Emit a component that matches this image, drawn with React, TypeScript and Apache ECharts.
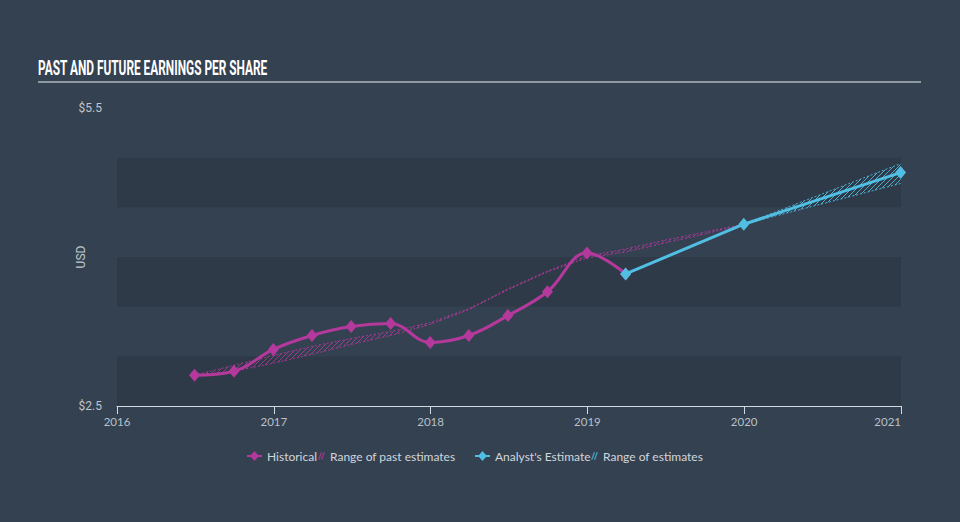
import React, { useEffect, useRef } from "react";
import * as echarts from "echarts";

// ---- data ----
const histDates = [
  "2016-06-30", "2016-09-30", "2016-12-31", "2017-03-31", "2017-06-30", "2017-09-30",
  "2017-12-31", "2018-03-31", "2018-06-30", "2018-09-30", "2018-12-31", "2019-03-31",
];
const histEps = [2.81, 2.85, 3.07, 3.21, 3.30, 3.33, 3.14, 3.21, 3.41, 3.65, 4.04, 3.83];

const pastRangeDates = [
  "2016-06-30", "2016-09-30", "2016-12-31", "2017-03-31", "2017-06-30", "2017-09-30",
  "2017-12-31", "2018-03-31", "2018-06-30", "2018-09-30", "2018-12-31", "2019-03-31",
  "2019-06-30", "2019-09-30", "2019-12-31",
];
const pastHigh = [2.81, 2.91, 3.01, 3.10, 3.18, 3.25, 3.34, 3.48, 3.68, 3.86, 4.01, 4.08, 4.17, 4.25, 4.33];
const pastLow = [2.81, 2.85, 2.93, 3.02, 3.12, 3.21, 3.32, 3.47, 3.67, 3.85, 3.99, 4.05, 4.14, 4.23, 4.33];

const estDates = ["2019-03-31", "2019-12-31", "2020-12-31"];
const estEps = [3.83, 4.33, 4.85];

const estRangeDates = ["2019-12-31", "2020-12-31"];
const estHigh = [4.33, 4.94];
const estLow = [4.33, 4.74];

const yTickLabels = ["$2.5", "$5.5"];
const titleText = "PAST AND FUTURE EARNINGS PER SHARE";

// ---- helpers ----
const toYear = (d: string) => {
  const [y, m, dd] = d.split("-").map(Number);
  const start = Date.UTC(y, 0, 1);
  const end = Date.UTC(y + 1, 0, 1);
  return y + (Date.UTC(y, m - 1, dd) - start) / (end - start);
};
const pairs = (dates: string[], vals: number[]) => dates.map((d, i) => [toYear(d), vals[i]]);

function makeHatch(color: string) {
  const s = 5;
  const c = document.createElement("canvas");
  c.width = s;
  c.height = s;
  const ctx = c.getContext("2d")!;
  ctx.strokeStyle = color;
  ctx.lineWidth = 1;
  ctx.beginPath();
  ctx.moveTo(0, s);
  ctx.lineTo(s, 0);
  ctx.moveTo(-1, 1);
  ctx.lineTo(1, -1);
  ctx.moveTo(s - 1, s + 1);
  ctx.lineTo(s + 1, s - 1);
  ctx.stroke();
  return { image: c, repeat: "repeat", imageWidth: s, imageHeight: s } as any;
}

const MAGENTA = "#b5399c";
const CYAN = "#50bfe3";
const BG = "#344151";
const hatchIcon = "path://M0,8 L1.5,8 L4.5,0 L3,0 Z M3,8 L4.5,8 L7.5,0 L6,0 Z";
const diamondIcon = "path://M0,4 L4,4 L7.5,0 L11,4 L15,4 L15,6 L11,6 L7.5,10 L4,6 L0,6 Z";
const geoFont = "Lato";
const legendText = { color: "#d2d6db", fontFamily: geoFont, fontSize: 12 };

function bandSeries(name: string, dates: string[], hi: number[], lo: number[], color: string, hatch: string) {
  const xs = dates.map(toYear);
  const fill = makeHatch(hatch);
  return {
    name,
    type: "custom",
    coordinateSystem: "cartesian2d",
    silent: true,
    z: 2,
    itemStyle: { color },
    data: dates.map((_, i) => [xs[i], lo[i], hi[i]]),
    encode: { x: 0, y: [1, 2] },
    renderItem: (params: any, api: any) => {
      const i = params.dataIndex;
      if (i >= xs.length - 1) return null;
      const pts = [
        api.coord([xs[i], hi[i]]),
        api.coord([xs[i + 1], hi[i + 1]]),
        api.coord([xs[i + 1], lo[i + 1]]),
        api.coord([xs[i], lo[i]]),
      ];
      return { type: "polygon", shape: { points: pts }, style: { fill, stroke: null } };
    },
  };
}

function boundLine(name: string, dates: string[], vals: number[], color: string) {
  return {
    name,
    type: "line",
    showSymbol: false,
    silent: true,
    data: pairs(dates, vals),
    lineStyle: { color, width: 1, type: [2, 2] },
    itemStyle: { color },
    z: 3,
  };
}

export default function App() {
  const ref = useRef<HTMLDivElement>(null);

  useEffect(() => {
    document.body.style.margin = "0";
    const chart = echarts.init(ref.current!, undefined, { renderer: "svg" });

    const mkLegend = (left: number, name: string, icon: string, w: number, h: number, color: string) => ({
      left,
      top: 450,
      padding: 0,
      itemWidth: w,
      itemHeight: h,
      textStyle: legendText,
      data: [{ name, icon, itemStyle: { color } }],
    });

    const option: any = {
      animation: false,
      backgroundColor: BG,
      grid: { left: 117, right: 59, top: 108, bottom: 116 },
      graphic: [
        {
          type: "text",
          x: 38,
          y: 68,
          scaleX: 0.593,
          style: {
            text: titleText,
            fill: "#ffffff",
            fontFamily: "Roboto",
            fontWeight: "bold",
            fontSize: 20,
            verticalAlign: "middle",
          },
        },
        {
          type: "line",
          shape: { x1: 38, y1: 82, x2: 921, y2: 82 },
          style: { stroke: "#aeb5bd", lineWidth: 1.5 },
        },
      ],
      legend: [
        mkLegend(247, "Historical", diamondIcon, 15, 10, MAGENTA),
        mkLegend(318, "Range of past estimates", hatchIcon, 7, 8, "rgba(181,57,156,0.75)"),
        mkLegend(475, "Analyst's Estimate", diamondIcon, 15, 10, CYAN),
        mkLegend(591, "Range of estimates", hatchIcon, 7, 8, "rgba(80,191,227,0.75)"),
      ],
      xAxis: {
        type: "value",
        min: 2016,
        max: 2021,
        interval: 1,
        axisLine: { show: true, lineStyle: { color: "#d3d9e0", width: 1 } },
        axisTick: { show: true, length: 8, lineStyle: { color: "#d3d9e0" } },
        axisLabel: {
          color: "#b9c0c8",
          fontFamily: geoFont,
          fontSize: 11.5,
          margin: 9,
          alignMaxLabel: "right",
          formatter: (v: number) => String(Math.round(v)),
        },
        splitLine: { show: false },
      },
      yAxis: {
        type: "value",
        min: 2.5,
        max: 5.5,
        interval: 0.5,
        name: "USD",
        nameLocation: "middle",
        nameGap: 30,
        nameMoveOverlap: false,
        nameTextStyle: { color: "#c0c6cd", fontFamily: "Roboto", fontSize: 12 },
        axisLine: { show: false },
        axisTick: { show: false },
        axisLabel: {
          color: "#c0c6cd",
          fontFamily: "Roboto",
          fontSize: 12,
          margin: 15,
          formatter: (v: number) =>
            Math.abs(v - 2.5) < 1e-6 ? yTickLabels[0] : Math.abs(v - 5.5) < 1e-6 ? yTickLabels[1] : "",
        },
        splitLine: { show: false },
        splitArea: { show: true, areaStyle: { color: ["rgba(0,0,0,0.1)", "rgba(0,0,0,0)"] } },
      },
      series: [
        bandSeries("Range of past estimates", pastRangeDates, pastHigh, pastLow, "rgba(181,57,156,0.75)", "rgba(181,57,156,0.8)"),
        boundLine("pastHighLine", pastRangeDates, pastHigh, "rgba(181,57,156,0.85)"),
        boundLine("pastLowLine", pastRangeDates, pastLow, "rgba(181,57,156,0.85)"),
        bandSeries("Range of estimates", estRangeDates, estHigh, estLow, "rgba(80,191,227,0.75)", "rgba(80,191,227,0.85)"),
        boundLine("estHighLine", estRangeDates, estHigh, "rgba(80,191,227,0.9)"),
        boundLine("estLowLine", estRangeDates, estLow, "rgba(80,191,227,0.9)"),
        {
          name: "Historical",
          type: "line",
          smooth: 0.4,
          symbol: "diamond",
          symbolSize: [11, 13],
          data: pairs(histDates, histEps),
          lineStyle: { color: MAGENTA, width: 3 },
          itemStyle: { color: MAGENTA },
          z: 4,
        },
        {
          name: "Analyst's Estimate",
          type: "line",
          symbol: "diamond",
          symbolSize: [11, 13],
          data: pairs(estDates, estEps),
          lineStyle: { color: CYAN, width: 3 },
          itemStyle: { color: CYAN },
          z: 5,
        },
      ],
    };

    chart.setOption(option);
    return () => chart.dispose();
  }, []);

  return <div ref={ref} style={{ width: 960, height: 522 }} />;
}
